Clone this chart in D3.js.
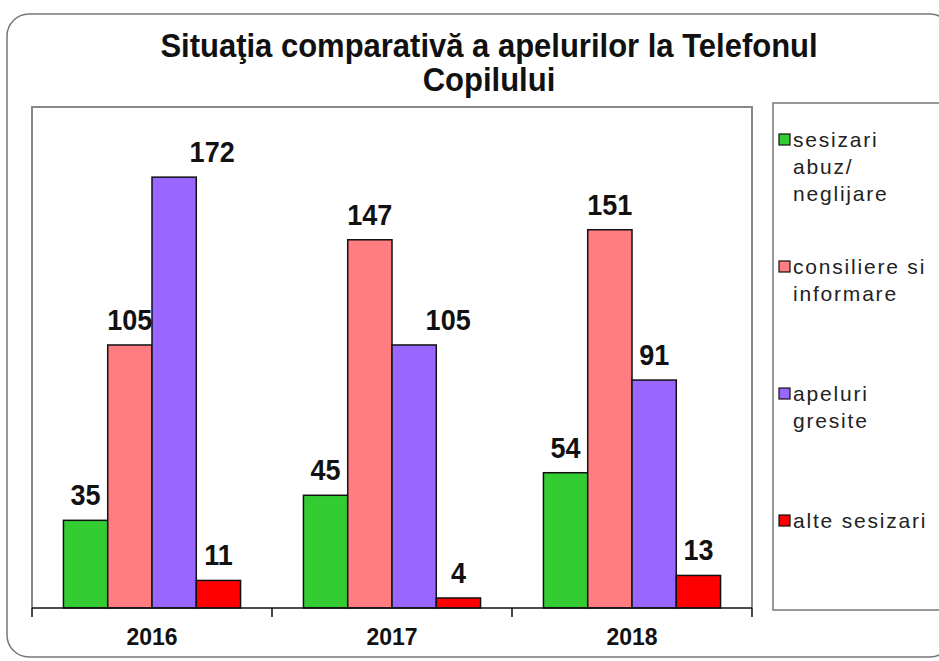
<!DOCTYPE html>
<html>
<head>
<meta charset="utf-8">
<script src="https://cdn.jsdelivr.net/npm/d3@7"></script>
<style>
  body { margin: 0; background: #fff; }
  svg { display: block; font-family: Arial, "Liberation Sans", sans-serif; }
</style>
</head>
<body>
<svg id="chart" width="939" height="661"></svg>
<script>
// chart data
const years = ["2016", "2017", "2018"];
const seriesNames = ["sesizari abuz/ neglijare", "consiliere si informare", "apeluri gresite", "alte sesizari"];
const sesizariAbuz = [35, 45, 54];
const consiliere = [105, 147, 151];
const apeluriGresite = [172, 105, 91];
const alteSesizari = [11, 4, 13];
const legendLines = [["sesizari", "abuz/", "neglijare"], ["consiliere si", "informare"], ["apeluri", "gresite"], ["alte sesizari"]];
const titleLines = ["Situaţia comparativă a apelurilor la Telefonul", "Copilului"];

const seriesValues = [sesizariAbuz, consiliere, apeluriGresite, alteSesizari];
const colors = ["#33cc33", "#ff7c80", "#9966ff", "#ff0000"];

const plot = { left: 32, right: 752, top: 107, bottom: 608 };

const svg = d3.select("#chart");

// outer rounded frame
svg.append("rect")
  .attr("x", 7).attr("y", 14)
  .attr("width", 945).attr("height", 643)
  .attr("rx", 22)
  .attr("fill", "#fff")
  .attr("stroke", "#777")
  .attr("stroke-width", 1.5);

// title, slightly stretched upwards like the original
svg.selectAll("text.title")
  .data(titleLines)
  .enter()
  .append("text")
  .attr("class", "title")
  .attr("transform", (d, i) => `translate(489,${57 + i * 34}) scale(1,1.08)`)
  .attr("text-anchor", "middle")
  .attr("font-size", 31)
  .attr("font-weight", "bold")
  .attr("fill", "#111")
  .text(d => d);

// scales
const x0 = d3.scaleBand()
  .domain(years)
  .range([plot.left, plot.right])
  .padding(0);

const x1 = d3.scaleBand()
  .domain(d3.range(seriesNames.length))
  .range([0, x0.bandwidth()])
  .paddingInner(0)
  .paddingOuter(0.71);

const y = d3.scaleLinear()
  .domain([0, 200])
  .range([plot.bottom, plot.top]);

// plot area border
svg.append("path")
  .attr("d", `M${plot.left},${plot.bottom}V${plot.top}H${plot.right}V${plot.bottom}`)
  .attr("fill", "none")
  .attr("stroke", "#888")
  .attr("stroke-width", 2);

// bars
const groups = svg.selectAll("g.year")
  .data(years)
  .enter()
  .append("g")
  .attr("class", "year")
  .attr("transform", d => `translate(${x0(d)},0)`);

groups.selectAll("rect")
  .data((d, yi) => seriesValues.map((vals, si) => ({ si, v: vals[yi] })))
  .enter()
  .append("rect")
  .attr("x", d => x1(d.si))
  .attr("y", d => y(d.v))
  .attr("width", x1.bandwidth())
  .attr("height", d => y(0) - y(d.v))
  .attr("fill", d => colors[d.si])
  .attr("stroke", "#111")
  .attr("stroke-width", 1.5);

// value labels (two were moved aside in the original)
const nudge = { "2-0": 38, "2-1": 34 };
groups.selectAll("text")
  .data((d, yi) => seriesValues.map((vals, si) => ({ si, yi, v: vals[yi] })))
  .enter()
  .append("text")
  .attr("transform", d => {
    const cx = x1(d.si) + x1.bandwidth() / 2 + (nudge[d.si + "-" + d.yi] || 0);
    return `translate(${cx},${y(d.v) - 15}) scale(1,1.08)`;
  })
  .attr("text-anchor", "middle")
  .attr("font-size", 27)
  .attr("font-weight", "bold")
  .attr("fill", "#111")
  .text(d => d.v);

// x axis with ticks between categories
const xAxis = svg.append("g");
xAxis.append("line")
  .attr("x1", plot.left).attr("x2", plot.right)
  .attr("y1", plot.bottom).attr("y2", plot.bottom)
  .attr("stroke", "#111").attr("stroke-width", 1.5);

const tickPos = years.map(d => x0(d)).concat([plot.right]);
xAxis.selectAll("line.tick")
  .data(tickPos)
  .enter()
  .append("line")
  .attr("class", "tick")
  .attr("x1", d => d).attr("x2", d => d)
  .attr("y1", plot.bottom).attr("y2", plot.bottom + 9)
  .attr("stroke", "#111").attr("stroke-width", 1.5);

xAxis.selectAll("text")
  .data(years)
  .enter()
  .append("text")
  .attr("transform", d => `translate(${x0(d) + x0.bandwidth() / 2},645) scale(1,1.08)`)
  .attr("text-anchor", "middle")
  .attr("font-size", 23)
  .attr("font-weight", "bold")
  .attr("fill", "#111")
  .text(d => d);

// legend
svg.append("rect")
  .attr("x", 773).attr("y", 103)
  .attr("width", 200).attr("height", 507)
  .attr("fill", "#fff")
  .attr("stroke", "#777")
  .attr("stroke-width", 1.5);

const legend = svg.selectAll("g.legend")
  .data(seriesNames)
  .enter()
  .append("g")
  .attr("class", "legend")
  .attr("transform", (d, i) => `translate(779,${140 + i * 127})`);

legend.append("rect")
  .attr("x", 0).attr("y", -6)
  .attr("width", 11).attr("height", 11)
  .attr("fill", (d, i) => colors[i])
  .attr("stroke", "#111")
  .attr("stroke-width", 1.2);

legend.append("text")
  .attr("font-size", 21)
  .attr("letter-spacing", 1.8)
  .attr("fill", "#222")
  .selectAll("tspan")
  .data((d, i) => legendLines[i])
  .enter()
  .append("tspan")
  .attr("x", 14)
  .attr("y", (d, i) => 7 + i * 27)
  .text(d => d);
</script>
</body>
</html>
